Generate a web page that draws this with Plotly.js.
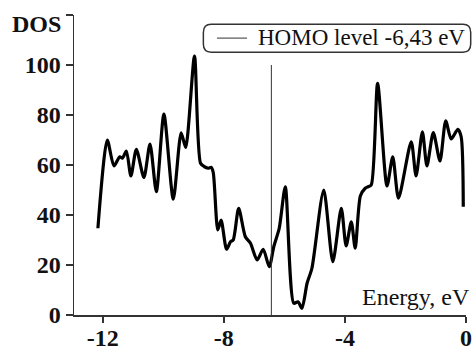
<!DOCTYPE html>
<html>
<head>
<meta charset="utf-8">
<script src="https://cdn.plot.ly/plotly-3.0.1.min.js"></script>
<style>html,body{margin:0;padding:0;background:#fff;}#chart{width:472px;height:351px;}</style>
</head>
<body>
<div id="chart"></div>
<script>
var energy = [-12.16, -11.85, -11.63, -11.44, -11.35, -11.22, -11.07, -10.89, -10.64, -10.44, -10.23, -9.98, -9.67, -9.41, -9.26, -8.97, -8.77, -8.64, -8.50, -8.42, -8.35, -8.20, -8.09, -7.91, -7.78, -7.69, -7.51, -7.29, -7.12, -6.90, -6.70, -6.50, -6.35, -6.17, -5.97, -5.69, -5.55, -5.42, -5.25, -5.09, -4.70, -4.40, -4.12, -3.96, -3.79, -3.66, -3.49, -3.33, -3.24, -3.13, -2.92, -2.61, -2.42, -2.23, -1.81, -1.65, -1.44, -1.29, -1.08, -0.86, -0.67, -0.49, -0.27, -0.16, -0.09];
var dos = [34.7, 70, 59.6, 63.3, 62.7, 65.6, 55.6, 66.3, 55, 68.4, 49.3, 80.4, 46.3, 72.9, 67, 103.6, 60.7, 59.3, 58.7, 59.1, 57, 34, 38, 26.3, 29.3, 30, 42.7, 31.3, 28.7, 22, 26.3, 19.3, 27.3, 34.7, 51.3, 4.7, 5.3, 2.7, 12.7, 18.7, 50, 21.3, 42.7, 27.6, 37.3, 26.7, 47.6, 50.7, 51.3, 52, 92.7, 51.6, 63.3, 46.7, 69.3, 55.6, 73.3, 59.6, 73, 61.6, 77.7, 70.4, 74.3, 71.3, 43.3];
var homoEnergy = -6.43;
var homoLine = [0, 100];
var homoName = "HOMO level -6,43 eV";
var xTickVals = [-12, -8, -4, 0];
var xTickText = ["-12", "-8", "-4", "0"];
var yTickVals = [0, 20, 40, 60, 80, 100, 120];
var yTickText = ["0", "20", "40", "60", "80", "100", ""];
var yLabel = "DOS";
var xLabel = "Energy, eV";

var FONT = "Liberation Serif, Times New Roman, serif";
var AX = "#333";
var TXT = "#111";

var traces = [
  {x: energy, y: dos, type: "scatter", mode: "lines", line: {color: "#000", width: 3.2, shape: "spline", smoothing: 0.7}, showlegend: false, hoverinfo: "skip"},
  {x: [homoEnergy, homoEnergy], y: homoLine, type: "scatter", mode: "lines", line: {color: "#333", width: 1}, name: homoName, showlegend: false, hoverinfo: "skip"}
];

var layout = {
  width: 472, height: 351,
  margin: {l: 74, r: 6, t: 15, b: 36, pad: 0},
  paper_bgcolor: "#fff", plot_bgcolor: "#fff",
  font: {family: FONT, size: 22, color: TXT},
  showlegend: false,
  xaxis: {range: [-12.95, 0], tickvals: xTickVals, ticktext: xTickText, showgrid: false, zeroline: false,
          showline: true, linecolor: AX, linewidth: 1.5, ticks: "outside", ticklen: 6, tickwidth: 1.5, tickcolor: AX,
          ticklabelstandoff: -5,
          tickfont: {family: FONT, size: 24, weight: "bold", color: TXT}},
  yaxis: {range: [0, 120], tickvals: yTickVals, ticktext: yTickText, showgrid: false, zeroline: false,
          showline: true, linecolor: AX, linewidth: 1.5, ticks: "outside", ticklen: 7, tickwidth: 1.5, tickcolor: AX,
          tickfont: {family: FONT, size: 24, weight: "bold", color: TXT}},
  annotations: [
    {text: yLabel, xref: "paper", yref: "paper", x: -0.028, y: 0.97, xanchor: "right", yanchor: "middle", showarrow: false,
     font: {family: FONT, size: 24, weight: "bold", color: TXT}},
    {text: xLabel, xref: "paper", yref: "paper", x: 1.016, y: 0.06, xanchor: "right", yanchor: "middle", showarrow: false,
     font: {family: FONT, size: 24, color: TXT}},
    {text: homoName, xref: "paper", yref: "paper", x: 0.464, y: 0.924, xanchor: "left", yanchor: "middle", showarrow: false,
     font: {family: FONT, size: 23, color: TXT}}
  ],
  shapes: [
    {type: "path", xref: "paper", yref: "paper", line: {color: AX, width: 1.5}, fillcolor: "rgba(0,0,0,0)",
     path: "M 0.350,0.969 L 0.992,0.969 Q 1.012,0.969 1.012,0.942 L 1.012,0.903 Q 1.012,0.876 0.992,0.876 L 0.350,0.876 Q 0.330,0.876 0.330,0.903 L 0.330,0.942 Q 0.330,0.969 0.350,0.969 Z"},
    {type: "line", xref: "paper", yref: "paper", x0: 0.3648, x1: 0.4413, y0: 0.923, y1: 0.923, line: {color: "#333", width: 1}}
  ]
};

Plotly.newPlot("chart", traces, layout, {displayModeBar: false, staticPlot: true});
</script>
</body>
</html>
